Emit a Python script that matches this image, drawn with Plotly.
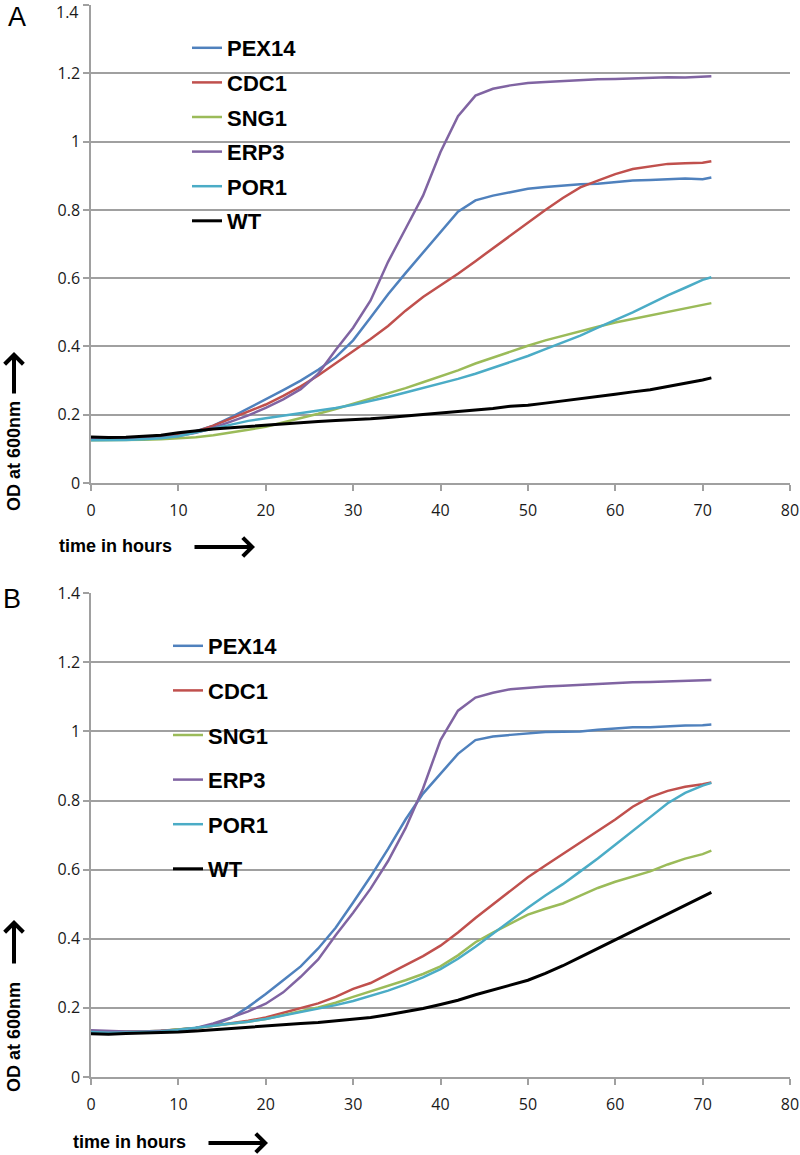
import plotly.graph_objects as go

# ---------------- data ----------------
hours = [0, 2, 4, 6, 8, 10, 12, 14, 16, 18, 20, 22, 24, 26, 28, 30, 32, 34, 36, 38,
         40, 42, 44, 46, 48, 50, 52, 54, 56, 58, 60, 62, 64, 66, 68, 70, 71]

series_names = ["PEX14", "CDC1", "SNG1", "ERP3", "POR1", "WT"]

# Panel A
pex14_a = [0.130, 0.130, 0.131, 0.133, 0.137, 0.143, 0.152, 0.168, 0.192, 0.218, 0.245, 0.272,
           0.300, 0.332, 0.368, 0.418, 0.485, 0.553, 0.615, 0.675, 0.735, 0.795, 0.828, 0.842,
           0.852, 0.862, 0.867, 0.872, 0.875, 0.877, 0.882, 0.886, 0.888, 0.889, 0.892, 0.890, 0.895]
cdc1_a = [0.130, 0.130, 0.131, 0.133, 0.136, 0.142, 0.150, 0.168, 0.188, 0.208, 0.230, 0.255,
          0.283, 0.315, 0.350, 0.385, 0.422, 0.460, 0.505, 0.545, 0.578, 0.613, 0.650, 0.688,
          0.724, 0.762, 0.800, 0.835, 0.866, 0.886, 0.905, 0.920, 0.928, 0.935, 0.937, 0.938, 0.943]
sng1_a = [0.125, 0.125, 0.126, 0.127, 0.128, 0.130, 0.134, 0.140, 0.147, 0.156, 0.165, 0.177,
          0.190, 0.203, 0.217, 0.232, 0.247, 0.262, 0.278, 0.295, 0.312, 0.330, 0.350, 0.368,
          0.385, 0.402, 0.418, 0.432, 0.445, 0.458, 0.470, 0.480, 0.490, 0.500, 0.510, 0.520, 0.527]
erp3_a = [0.130, 0.130, 0.131, 0.132, 0.134, 0.138, 0.147, 0.162, 0.180, 0.198, 0.220, 0.245,
          0.275, 0.320, 0.390, 0.455, 0.535, 0.648, 0.745, 0.842, 0.970, 1.075, 1.135, 1.155,
          1.165, 1.172, 1.175, 1.178, 1.180, 1.183, 1.184, 1.186, 1.188, 1.189, 1.188, 1.190, 1.192]
por1_a = [0.125, 0.125, 0.126, 0.128, 0.131, 0.137, 0.148, 0.160, 0.172, 0.182, 0.190, 0.197,
          0.204, 0.212, 0.220, 0.229, 0.240, 0.252, 0.265, 0.278, 0.290, 0.305, 0.320, 0.337,
          0.355, 0.372, 0.392, 0.412, 0.432, 0.455, 0.477, 0.500, 0.525, 0.550, 0.572, 0.595, 0.603]
wt_a = [0.135, 0.133, 0.134, 0.137, 0.140, 0.147, 0.153, 0.158, 0.162, 0.166, 0.170, 0.174,
        0.177, 0.180, 0.183, 0.185, 0.188, 0.192, 0.196, 0.200, 0.204, 0.208, 0.212, 0.218,
        0.225, 0.228, 0.234, 0.240, 0.246, 0.253, 0.260, 0.267, 0.273, 0.283, 0.292, 0.302, 0.308]

# Panel B
pex14_b = [0.130, 0.130, 0.131, 0.132, 0.133, 0.137, 0.142, 0.150, 0.170, 0.203, 0.240, 0.280,
           0.320, 0.372, 0.432, 0.505, 0.580, 0.660, 0.745, 0.820, 0.878, 0.935, 0.975, 0.985,
           0.990, 0.995, 0.998, 0.999, 1.000, 1.005, 1.008, 1.012, 1.012, 1.015, 1.017, 1.018, 1.020]
cdc1_b = [0.130, 0.130, 0.130, 0.131, 0.133, 0.137, 0.142, 0.148, 0.155, 0.163, 0.172, 0.185,
          0.198, 0.213, 0.232, 0.255, 0.272, 0.298, 0.322, 0.350, 0.380, 0.418, 0.460, 0.500,
          0.538, 0.578, 0.612, 0.645, 0.678, 0.710, 0.745, 0.782, 0.810, 0.828, 0.840, 0.847, 0.852]
sng1_b = [0.130, 0.130, 0.131, 0.132, 0.134, 0.137, 0.142, 0.148, 0.153, 0.160, 0.168, 0.178,
          0.190, 0.201, 0.215, 0.232, 0.248, 0.262, 0.280, 0.298, 0.320, 0.352, 0.390, 0.418,
          0.445, 0.470, 0.487, 0.502, 0.525, 0.547, 0.565, 0.580, 0.595, 0.615, 0.632, 0.645, 0.655]
erp3_b = [0.135, 0.133, 0.132, 0.132, 0.133, 0.136, 0.142, 0.155, 0.172, 0.190, 0.212, 0.245,
          0.290, 0.340, 0.410, 0.475, 0.545, 0.625, 0.720, 0.835, 0.975, 1.060, 1.098, 1.112,
          1.122, 1.127, 1.130, 1.132, 1.135, 1.137, 1.140, 1.142, 1.143, 1.145, 1.146, 1.148, 1.149]
por1_b = [0.130, 0.128, 0.129, 0.130, 0.132, 0.137, 0.142, 0.148, 0.155, 0.160, 0.168, 0.178,
          0.188, 0.197, 0.208, 0.220, 0.235, 0.250, 0.268, 0.288, 0.312, 0.342, 0.377, 0.415,
          0.452, 0.490, 0.525, 0.558, 0.595, 0.632, 0.672, 0.713, 0.752, 0.792, 0.822, 0.843, 0.851]
wt_b = [0.125, 0.124, 0.126, 0.127, 0.128, 0.130, 0.133, 0.137, 0.140, 0.143, 0.148, 0.152,
        0.155, 0.158, 0.163, 0.168, 0.172, 0.180, 0.188, 0.198, 0.210, 0.222, 0.238, 0.252,
        0.266, 0.280, 0.300, 0.322, 0.347, 0.372, 0.397, 0.422, 0.447, 0.470, 0.495, 0.520, 0.534]

y_ticks = [0, 0.2, 0.4, 0.6, 0.8, 1.0, 1.2, 1.4]
y_ticklabels = ["0", "0.2", "0.4", "0.6", "0.8", "1", "1.2", "1.4"]
x_ticks = [0, 10, 20, 30, 40, 50, 60, 70, 80]
panel_labels = ["A", "B"]
x_title = "time in hours"
y_title = "OD at 600nm"

# ---------------- styling ----------------
colors = ["#4F81BD", "#C0504D", "#9BBB59", "#8064A2", "#4BACC6", "#000000"]
widths = [2.5, 2.5, 2.5, 2.5, 2.5, 3.0]
GRID = "#A0A0A0"

W, H = 800, 1155
ML, MR, MT, MB = 91, 10, 5, 78
PW = W - ML - MR
PH = H - MT - MB


def px(x):
    return (x - ML) / PW


def py(y):
    return (H - MB - y) / PH


panel_a = [pex14_a, cdc1_a, sng1_a, erp3_a, por1_a, wt_a]
panel_b = [pex14_b, cdc1_b, sng1_b, erp3_b, por1_b, wt_b]

fig = go.Figure()
for name, vals, c, w in zip(series_names, panel_a, colors, widths):
    fig.add_trace(go.Scatter(x=hours, y=vals, name=name, mode="lines",
                             line=dict(color=c, width=w),
                             xaxis="x", yaxis="y", legend="legend",
                             legendgroup="a_" + name))
for name, vals, c, w in zip(series_names, panel_b, colors, widths):
    fig.add_trace(go.Scatter(x=hours, y=vals, name=name, mode="lines",
                             line=dict(color=c, width=w),
                             xaxis="x2", yaxis="y2", legend="legend2",
                             legendgroup="b_" + name))

tickfont = dict(family="Open Sans", size=16, color="#1a1a1a")
xcommon = dict(range=[0, 80], tickvals=x_ticks, showgrid=False, showline=True,
               linecolor=GRID, linewidth=1.5, ticks="outside", ticklen=6,
               tickcolor=GRID, tickwidth=1.5, tickfont=tickfont, zeroline=False,
               ticklabelstandoff=6, automargin=False, ticklabeloverflow="allow")
ycommon = dict(range=[0, 1.4005], tickvals=y_ticks,
               showgrid=True, gridcolor=GRID, gridwidth=1.5, showline=True,
               linecolor=GRID, linewidth=1.5, ticks="outside", ticklen=6,
               tickcolor=GRID, tickwidth=1.5, tickfont=tickfont, zeroline=False,
               automargin=False, ticklabeloverflow="allow")

# top label of panel A sits at the very edge of the page; it is drawn as an
# annotation just inside the page instead of as a tick label
ticktext_a = y_ticklabels[:-1] + [""]
ticktext_b = list(y_ticklabels)

a_top, a_bot = 5, 483
b_top, b_bot = 593, 1077

legfont = dict(family="Liberation Sans", size=22, color="#000000", weight="bold")

fig.update_layout(
    width=W, height=H,
    margin=dict(l=ML, r=MR, t=MT, b=MB, autoexpand=False),
    paper_bgcolor="white", plot_bgcolor="white",
    showlegend=True,
    xaxis=dict(domain=[0, 1], anchor="y", **xcommon),
    yaxis=dict(domain=[py(a_bot), py(a_top)], anchor="x", ticktext=ticktext_a, **ycommon),
    xaxis2=dict(domain=[0, 1], anchor="y2", **xcommon),
    yaxis2=dict(domain=[py(b_bot), py(b_top)], anchor="x2", ticktext=ticktext_b, **ycommon),
    legend=dict(x=px(187), y=py(27), xanchor="left", yanchor="top",
                bgcolor="rgba(0,0,0,0)", font=legfont, tracegroupgap=3,
                traceorder="grouped", itemwidth=30),
    legend2=dict(x=px(168), y=py(625), xanchor="left", yanchor="top",
                 bgcolor="rgba(0,0,0,0)", font=legfont, tracegroupgap=13,
                 traceorder="grouped", itemwidth=30),
)

ann = []
ann.append(dict(text=y_ticklabels[-1], x=px(80), y=py(0), xref="paper", yref="paper",
                xanchor="right", yanchor="top", showarrow=False, font=tickfont,
                borderpad=0))
letterfont = dict(family="Liberation Sans", size=27, color="black")
ann.append(dict(text=panel_labels[0], x=px(17), y=py(17), xref="paper", yref="paper",
                xanchor="center", yanchor="middle", showarrow=False, font=letterfont))
ann.append(dict(text=panel_labels[1], x=px(12), y=py(599), xref="paper", yref="paper",
                xanchor="center", yanchor="middle", showarrow=False, font=letterfont))

boldfont = dict(family="Liberation Sans", size=18, color="black", weight="bold")
# x titles and arrows
for (cx, cy, ax0, ax1) in [(115, 546, 193, 255), (129, 1142, 207, 268)]:
    ann.append(dict(text=x_title, x=px(cx), y=py(cy), xref="paper", yref="paper",
                    xanchor="center", yanchor="middle", showarrow=False, font=boldfont))
    ann.append(dict(text="", x=px(ax1), y=py(cy + 1), xref="paper", yref="paper",
                    showarrow=True, ax=-(ax1 - ax0), ay=0, arrowhead=4, arrowsize=0.9,
                    arrowwidth=4, arrowcolor="black"))
# y titles and arrows
for (cy, tip, tail) in [(456, 352, 395), (1037, 920, 965)]:
    ann.append(dict(text=y_title, x=px(14), y=py(cy), xref="paper", yref="paper",
                    xanchor="center", yanchor="middle", showarrow=False, textangle=-90,
                    font=boldfont))
    ann.append(dict(text="", x=px(14), y=py(tip), xref="paper", yref="paper",
                    showarrow=True, ax=0, ay=tail - tip, arrowhead=4, arrowsize=0.9,
                    arrowwidth=4, arrowcolor="black"))

fig.update_layout(annotations=ann)

fig.write_html("out.html", config={"displayModeBar": False},
               post_script="document.body.style.margin='0';document.body.style.padding='0';")
